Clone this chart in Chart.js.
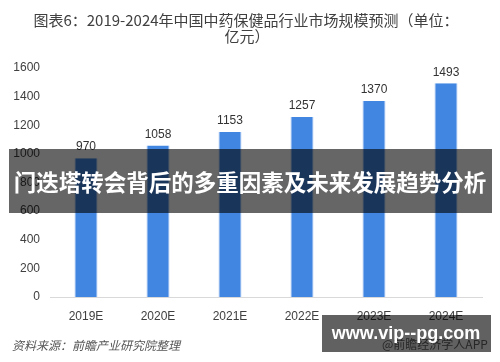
<!DOCTYPE html>
<html>
<head>
<meta charset="utf-8">
<script src="https://cdn.jsdelivr.net/npm/chart.js@4"></script>
<style>
  html, body { margin: 0; padding: 0; background: #fff; }
  #wrap { width: 500px; height: 362px; }
</style>
</head>
<body>
<div id="wrap"><canvas id="grafico" width="500" height="362"></canvas></div>
<script>
// dados do grafico
const anos = ['2019E', '2020E', '2021E', '2022E', '2023E', '2024E']
const valores = [970, 1058, 1153, 1257, 1370, 1493]
const ticksY = [0, 200, 400, 600, 800, 1000, 1200, 1400, 1600]

const tituloLinhas = ['图表6：2019-2024年中国中药保健品行业市场规模预测（单位：', '亿元）']
const faixaTexto = '门迭塔转会背后的多重因素及未来发展趋势分析'
const fonte = '资料来源：前瞻产业研究院整理'
const marca = 'www.vip--pg.com'
const marcaFundo = '@前瞻经济学人APP'

const cjk = '"Noto Sans CJK SC", "Noto Sans", sans-serif'
const num = '"Liberation Sans", "Noto Sans", sans-serif'

// titulo, rotulos, faixa escura e marca d'agua
const extras = {
  id: 'extras',
  afterDraw(chart) {
    const ctx = chart.ctx
    ctx.save()

    // titulo
    ctx.fillStyle = '#404040'
    ctx.font = '15px ' + cjk
    ctx.textAlign = 'center'
    ctx.textBaseline = 'middle'
    ctx.fillText(tituloLinhas[0], 246, 20)
    ctx.fillText(tituloLinhas[1], 247, 36)

    // valores em cima das barras
    const meta = chart.getDatasetMeta(0)
    ctx.font = '12px ' + num
    ctx.fillStyle = '#333'
    ctx.textBaseline = 'bottom'
    meta.data.forEach((bar, i) => {
      ctx.fillText(valores[i], bar.x, bar.y - 5)
    })

    // fonte
    ctx.font = 'italic 12px ' + cjk
    ctx.fillStyle = '#555'
    ctx.textAlign = 'left'
    ctx.textBaseline = 'middle'
    ctx.fillText(fonte, 12, 345)

    // faixa do meio
    ctx.fillStyle = 'rgba(0,0,0,0.6)'
    ctx.fillRect(9, 149, 483, 64)
    ctx.fillStyle = '#fff'
    ctx.font = 'bold 22.5px ' + cjk
    ctx.textAlign = 'center'
    ctx.fillText(faixaTexto, 250, 182)

    // marca no canto
    ctx.fillStyle = '#666'
    ctx.font = '12px ' + cjk
    ctx.textAlign = 'left'
    ctx.fillText(marcaFundo, 382, 344)
    ctx.fillStyle = 'rgba(0,0,0,0.62)'
    ctx.fillRect(322, 315, 169, 37)
    ctx.fillStyle = '#fff'
    ctx.font = 'bold 18px ' + num
    ctx.textAlign = 'center'
    ctx.fillText(marca, 406, 334)

    ctx.restore()
  }
}

new Chart(document.getElementById('grafico'), {
  type: 'bar',
  data: {
    labels: anos,
    datasets: [{
      data: valores,
      backgroundColor: '#4186e0',
      borderColor: '#a9c9f2',
      borderWidth: { left: 1, right: 1, top: 0, bottom: 0 },
      categoryPercentage: 1,
      barPercentage: 0.32
    }]
  },
  options: {
    responsive: false,
    animation: false,
    layout: { padding: { top: 68, right: 18, bottom: 35, left: 0 } },
    plugins: {
      legend: { display: false },
      title: { display: false },
      tooltip: { enabled: false }
    },
    scales: {
      x: {
        grid: { display: false, drawTicks: false },
        border: { display: true, color: '#d9d9d9', width: 1 },
        ticks: { color: '#404040', font: { size: 12, family: num }, padding: 12 },
        afterFit(s) { s.width = s.width; s.height = 30 }
      },
      y: {
        min: 0,
        max: 1600,
        afterBuildTicks(s) { s.ticks = ticksY.map(v => ({ value: v })) },
        grid: { display: false, drawTicks: false },
        border: { display: false },
        ticks: {
          color: '#404040',
          font: { size: 12, family: num },
          padding: 10,
          callback: (v) => String(v)
        },
        afterFit(s) { s.width = 50 }
      }
    }
  },
  plugins: [extras]
})
</script>
</body>
</html>
